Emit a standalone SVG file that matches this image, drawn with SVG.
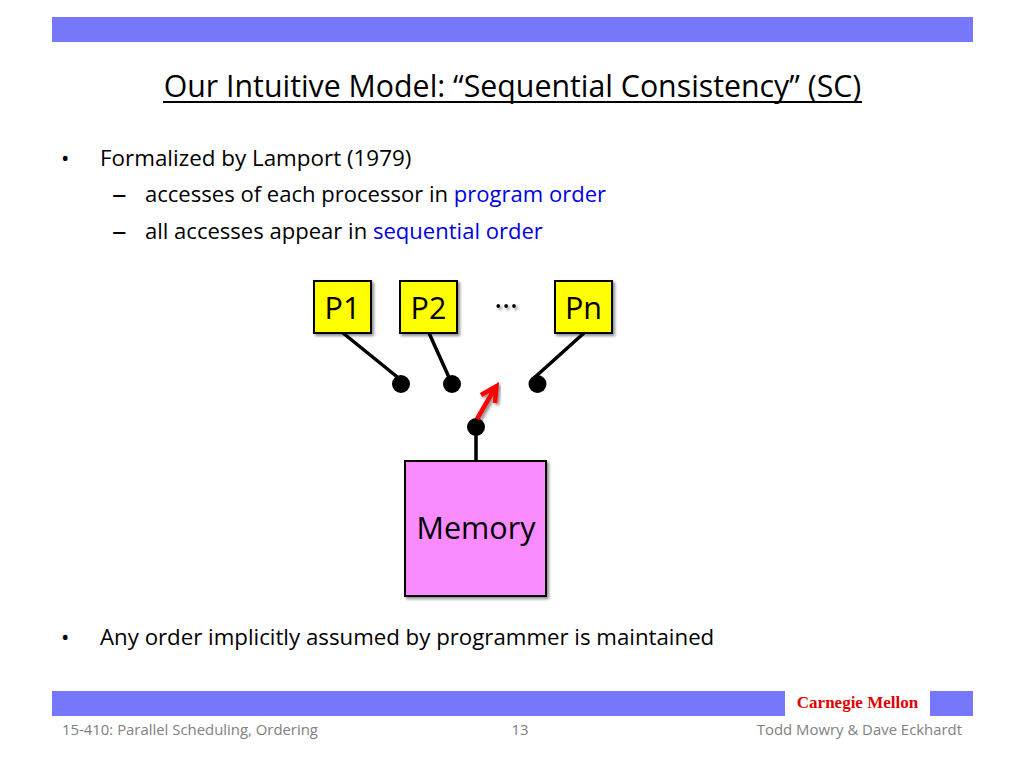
<svg xmlns="http://www.w3.org/2000/svg" width="1024" height="768" viewBox="0 0 1024 768">
<defs><filter id="sh" x="-20%" y="-20%" width="140%" height="140%"><feDropShadow dx="2" dy="2" stdDeviation="1.5" flood-color="#000" flood-opacity="0.45"/></filter></defs>
<style>
text{font-family:"Open Sans","Noto Sans","Liberation Sans",sans-serif;fill:#000}
.b{font-size:22.25px}.s{font-size:22.05px}.d{font-size:29px}.n{font-size:30.500px;text-anchor:middle}.f{font-size:14.9px;fill:#7f7f7f}.blue{fill:#0000e0}
.box{stroke:#000;stroke-width:2;filter:url(#sh)}
.w{stroke:#000;stroke-width:3.5;fill:none}
</style>
<rect width="1024" height="768" fill="#fff"/>
<rect x="52" y="17" width="921" height="25" fill="#7777fc"/>
<text x="512.500" y="97" font-size="30.300" text-anchor="middle">Our Intuitive Model: “Sequential Consistency” (SC)</text>
<line x1="163" y1="102" x2="862" y2="102" stroke="#000" stroke-width="2"/>
<text class="b" x="61" y="166">•</text><text class="b" x="100" y="166" style="font-size:22.4px">Formalized by Lamport (1979)</text>
<text class="d" x="112" y="204">–</text><text class="s" x="145" y="202">accesses of each processor in <tspan class="blue">program order</tspan></text>
<text class="d" x="112" y="241">–</text><text class="s" x="145" y="239">all accesses appear in <tspan class="blue">sequential order</tspan></text>
<g id="connectors">
<path class="w" d="M343 333L401 380M429 333L452 384M584 333L534 378M476 427V461"/>
<circle cx="401" cy="384" r="9"/><circle cx="452" cy="384" r="9"/><circle cx="537.500" cy="384" r="9"/><circle cx="476" cy="427" r="9"/>
<path d="M477 419L495 388M481 395L496.500 386L495 403" fill="none" stroke="#f00" stroke-width="4.500" filter="url(#sh)"/>
</g>
<g id="p1"><rect class="box" x="314" y="281" width="57" height="52" fill="#ff0"/><text class="n" x="342.500" y="319">P1</text></g>
<g id="p2"><rect class="box" x="400" y="281" width="57" height="52" fill="#ff0"/><text class="n" x="428.500" y="319">P2</text></g>
<g id="dots"><text class="n" x="506" y="308" filter="url(#sh)">…</text></g>
<g id="pn"><rect class="box" x="555" y="281" width="57" height="52" fill="#ff0"/><text class="n" x="583.500" y="319">Pn</text></g>
<g id="memory"><rect class="box" x="405" y="461" width="141" height="135" fill="#f98bff"/><text class="n" x="476" y="539">Memory</text></g>
<text class="b" x="61" y="645">•</text><text class="b" x="100" y="645">Any order implicitly assumed by programmer is maintained</text>
<rect x="52" y="691" width="921" height="25" fill="#7777fc"/>
<rect x="785" y="691" width="145" height="25" fill="#fff"/>
<text x="857.500" y="708" font-size="17" font-weight="bold" text-anchor="middle" style="font-family:'Liberation Serif',serif;fill:#e00000">Carnegie Mellon</text>
<text class="f" x="62" y="735">15-410: Parallel Scheduling, Ordering</text>
<text class="f" x="520" y="735" text-anchor="middle">13</text>
<text class="f" x="962" y="735" text-anchor="end">Todd Mowry &amp; Dave Eckhardt</text>
</svg>
